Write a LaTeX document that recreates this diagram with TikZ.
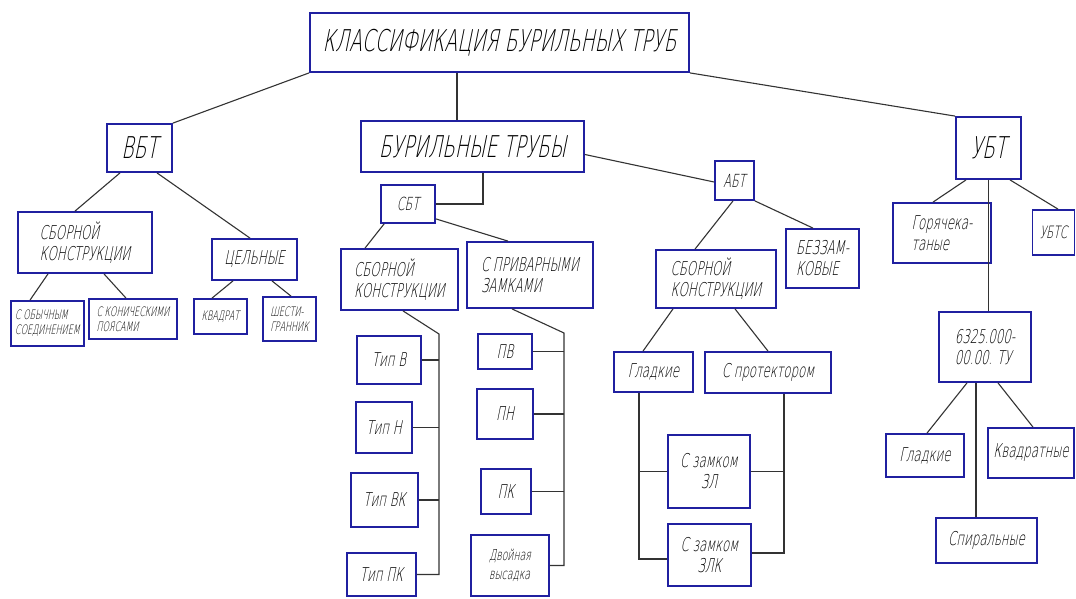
\documentclass[tikz,border=0pt]{standalone}
\usepackage{fontspec}
\newfontfamily\gost[FakeSlant=0.2,FakeStretch=0.62]{DejaVu Sans ExtraLight}
\definecolor{boxblue}{RGB}{32,32,160}

\begin{document}
\begin{tikzpicture}[x=1pt, y=-1pt,
    box/.style={rectangle, draw=boxblue, line width=1.8pt, inner sep=2pt, align=left, font=\gost\fontsize{19}{21}\selectfont},
    bigbox/.style={box, font=\gost\fontsize{30}{32}\selectfont},
    midbox/.style={box, font=\gost\fontsize{18}{20}\selectfont},
    smallbox/.style={box, font=\gost\fontsize{13}{15}\selectfont},
    link/.style={draw=black!80, line width=1.1pt}
]
\fill[white] (0,0) rectangle (1076,598);
\useasboundingbox (0,0) rectangle (1076,598);

% Top level
\node[bigbox, minimum width=379, minimum height=59] (title) at (499.5,42.5) {КЛАССИФИКАЦИЯ БУРИЛЬНЫХ ТРУБ};

% Second level
\node[bigbox, minimum width=65, minimum height=48] (vbt) at (139.5,148) {ВБТ};
\node[bigbox, minimum width=223, minimum height=51] (bt) at (472.5,146.5) {БУРИЛЬНЫЕ ТРУБЫ};
\node[bigbox, minimum width=65, minimum height=62] (ubt) at (988.5,148) {УБТ};

% ВБТ
\node[box, minimum width=134, minimum height=61] (vbtsb) at (85,242.5) {СБОРНОЙ\\КОНСТРУКЦИИ};
\node[box, minimum width=85, minimum height=41] (cel) at (254.5,259.5) {ЦЕЛЬНЫЕ};
\node[smallbox, minimum width=73, minimum height=45] (obych) at (47.5,323.5) {С ОБЫЧНЫМ\\СОЕДИНЕНИЕМ};
\node[smallbox, minimum width=88, minimum height=40] (konich) at (133,319) {С КОНИЧЕСКИМИ\\ПОЯСАМИ};
\node[smallbox, minimum width=53, minimum height=35] (kvadrat) at (220.5,316.5) {КВАДРАТ};
\node[smallbox, minimum width=53, minimum height=44] (shesti) at (289.5,319) {ШЕСТИ-\\ГРАННИК};

% СБТ
\node[midbox, minimum width=54, minimum height=38] (sbt) at (408,204) {СБТ};
\node[box, minimum width=117, minimum height=61] (sbtsb) at (399.5,279.5) {СБОРНОЙ\\КОНСТРУКЦИИ};
\node[box, minimum width=126, minimum height=66] (priv) at (530,275) {С ПРИВАРНЫМИ\\ЗАМКАМИ};
\node[box, minimum width=64, minimum height=48] (tipB) at (389,360) {Тип В};
\node[box, minimum width=56, minimum height=51] (tipH) at (384,427.5) {Тип Н};
\node[box, minimum width=67, minimum height=54] (tipVK) at (384.5,500) {Тип ВК};
\node[box, minimum width=69, minimum height=43] (tipPK) at (381.5,574.5) {Тип ПК};
\node[box, minimum width=54, minimum height=35] (pv) at (505,351.5) {ПВ};
\node[box, minimum width=56, minimum height=50] (pn) at (505,414) {ПН};
\node[box, minimum width=50, minimum height=45] (pk) at (506,491.5) {ПК};
\node[box, font=\gost\fontsize{15}{19}\selectfont, minimum width=78, minimum height=61] (dvoin) at (510,565.5) {Двойная\\высадка};

% АБТ
\node[midbox, minimum width=39, minimum height=39] (abt) at (734.5,180.5) {АБТ};
\node[box, minimum width=120, minimum height=58] (abtsb) at (716,279) {СБОРНОЙ\\КОНСТРУКЦИИ};
\node[box, minimum width=73, minimum height=59] (bezzam) at (822.5,258.5) {БЕЗЗАМ-\\КОВЫЕ};
\node[box, minimum width=79, minimum height=40] (gladkA) at (653.5,372) {Гладкие};
\node[box, minimum width=126, minimum height=41] (protekt) at (768,372.5) {С протектором};
\node[box, align=center, minimum width=82, minimum height=73] (zl) at (709,471.5) {С замком\\ЗЛ};
\node[box, align=center, minimum width=83, minimum height=62] (zlk) at (709.5,555) {С замком\\ЗЛК};

% УБТ
\node[box, minimum width=98, minimum height=60] (gor) at (942,233) {Горячека-\\таные};
\node[midbox, font=\gost\fontsize{17}{19}\selectfont, minimum width=42, minimum height=45] (ubts) at (1053.5,232.5) {УБТС};
\node[box, minimum width=92, minimum height=70] (tu) at (985,347) {6325.000-\\00.00. ТУ};
\node[box, minimum width=78, minimum height=43] (gladkU) at (925,455.5) {Гладкие};
\node[box, minimum width=86, minimum height=50] (kvadr) at (1031,453) {Квадратные};
\node[box, minimum width=101, minimum height=45] (spir) at (986.5,540.5) {Спиральные};

% Lines from the title
\draw[link] (title.south west) -- (vbt.north east);
\draw[link] ([xshift=-42.5]title.south) -- ([xshift=-42.5]title.south |- bt.north);
\draw[link] (title.south east) -- (ubt.north west);

% ВБТ
\draw[link] ([xshift=-19.5]vbt.south) -- ([xshift=-10]vbtsb.north);
\draw[link] ([xshift=17.5]vbt.south) -- ([xshift=-4.5]cel.north);
\draw[link] ([xshift=-37]vbtsb.south) -- ([xshift=-17.5]obych.north);
\draw[link] ([xshift=19]vbtsb.south) -- ([xshift=-7]konich.north);
\draw[link] ([xshift=-21.5]cel.south) -- ([xshift=-8.5]kvadrat.north);
\draw[link] ([xshift=17.5]cel.south) -- ([xshift=1.5]shesti.north);

% Бурильные трубы
\draw[link] ([xshift=10.5]bt.south) |- (sbt.east);
\draw[link] ([yshift=-8]bt.east) -- ([yshift=-1.5]abt.west);
\draw[link] ([xshift=4]sbt.south west) -- ([xshift=-34.5]sbtsb.north);
\draw[link] ([yshift=5]sbt.south east) -- ([xshift=-22]priv.north);

% СБТ spines
\coordinate (spineL) at (439,334);
\coordinate (spineR) at (564,333);
\draw[link] ([xshift=3.5]sbtsb.south) -- (spineL) -- (spineL |- tipPK.east) -- (tipPK.east);
\foreach \n in {tipB,tipH,tipVK}
    \draw[link] (\n.east) -- (\n.east -| spineL);
\draw[link] ([xshift=-18]priv.south) -- (spineR) -- (spineR |- dvoin.east) -- (dvoin.east);
\foreach \n in {pv,pn,pk}
    \draw[link] (\n.east) -- (\n.east -| spineR);

% АБТ
\draw[link] ([xshift=-1.5]abt.south) -- ([xshift=-21]abtsb.north);
\draw[link] (abt.south east) -- ([xshift=-9.5]bezzam.north);
\draw[link] ([xshift=-43]abtsb.south) -- ([xshift=-10.5]gladkA.north);
\draw[link] ([xshift=19]abtsb.south) -- (protekt.north);
\coordinate (gl) at ([xshift=-14.5]gladkA.south);
\coordinate (pr) at ([xshift=16]protekt.south);
\draw[link] (gl) |- ([yshift=-4]zlk.west);
\draw[link] (zl.west) -- (zl.west -| gl);
\draw[link] (pr) |- ([yshift=2]zlk.east);
\draw[link] (zl.east) -- (zl.east -| pr);

% УБТ
\draw[link] ([xshift=-22.5]ubt.south) -- ([xshift=-9]gor.north);
\draw[link] (ubt.south) -- (ubt.south |- tu.north);
\draw[link] ([xshift=21.5]ubt.south) -- ([xshift=4.5]ubts.north);
\draw[link] ([xshift=-18]tu.south) -- ([xshift=2]gladkU.north);
\draw[link] ([xshift=-9]tu.south) -- ([xshift=-9]tu.south |- spir.north);
\draw[link] ([xshift=13]tu.south) -- ([xshift=2]kvadr.north);

\end{tikzpicture}
\end{document}
